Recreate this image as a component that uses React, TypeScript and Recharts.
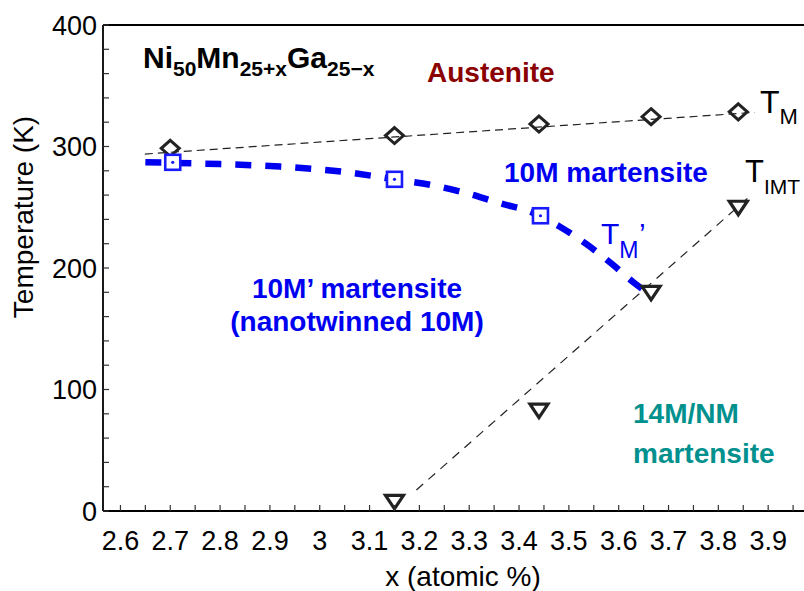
import {
  ComposedChart,
  Line,
  Scatter,
  XAxis,
  YAxis,
  ReferenceLine,
} from "recharts";

// T_M (open diamonds) and its linear fit
const tmX = [2.7, 3.15, 3.44, 3.665, 3.84];
const tmT = [298.5, 309, 318.5, 324.5, 328.5];
const tmFitX = [2.649, 3.873];
const tmFitT = [293.8, 328.1];

// T_M' (open squares) and the thick guide curve
const tmpX = [2.705, 3.15, 3.443];
const tmpT = [287, 273, 243];
const tmpCurveX = [2.65, 2.8, 2.92, 3.05, 3.15, 3.24, 3.3, 3.365, 3.425, 3.482, 3.534, 3.586, 3.632, 3.648];
const tmpCurveT = [287, 285.5, 283.5, 279, 273, 267, 261, 253, 246, 234, 220, 203.5, 187.5, 182.5];

// T_IMT (open down-triangles) and its linear fit
const timtX = [3.15, 3.44, 3.665, 3.84];
const timtT = [8, 83, 180, 250];
const timtFitX = [3.194, 3.866];
const timtFitT = [17.3, 260];

const xTicks = [
  2.6, 2.65, 2.7, 2.75, 2.8, 2.85, 2.9, 2.95, 3, 3.05, 3.1, 3.15, 3.2, 3.25,
  3.3, 3.35, 3.4, 3.45, 3.5, 3.55, 3.6, 3.65, 3.7, 3.75, 3.8, 3.85, 3.9, 3.95,
];
const yTicks = [0, 20, 40, 60, 80, 100, 120, 140, 160, 180, 200, 220, 240, 260, 280, 300, 320, 340, 360, 380, 400];

const zip = (xs: number[], ys: number[]) => xs.map((x, i) => ({ x, y: ys[i] }));

const FONT = '"Liberation Sans", Arial, Helvetica, sans-serif';
const BLUE = "#0000f0";
const INK = "#222";

function XTick({ x, y, payload }: any) {
  const v = payload.value as number;
  const major = Math.round(v * 100) % 10 === 0;
  return (
    <g>
      <line x1={x} y1={y} x2={x} y2={y - 6} stroke="#333" strokeWidth={1.2} />
      {major && (
        <text x={x} y={y + 39} textAnchor="middle" fontSize={27} fontFamily={FONT} fill="#000">
          {String(v)}
        </text>
      )}
    </g>
  );
}

function YTick({ x, y, payload }: any) {
  const v = payload.value as number;
  return (
    <g>
      <line x1={x} y1={y} x2={x + 6} y2={y} stroke="#333" strokeWidth={1.2} />
      {v % 100 === 0 && (
        <text x={x - 6} y={y + 9.5} textAnchor="end" fontSize={27} fontFamily={FONT} fill="#000">
          {v}
        </text>
      )}
    </g>
  );
}

const Diamond = ({ cx, cy }: any) => (
  <path
    d={`M${cx},${cy - 8} L${cx + 9},${cy} L${cx},${cy + 8} L${cx - 9},${cy} Z`}
    fill="none"
    stroke={INK}
    strokeWidth={3}
  />
);

const Square = ({ cx, cy }: any) => (
  <g>
    <rect x={cx - 7.5} y={cy - 7.5} width={15} height={15} fill="#fff" stroke="#1a1aff" strokeWidth={2.6} />
    <circle cx={cx} cy={cy} r={1.6} fill="#1a1aff" />
  </g>
);

const DownTriangle = ({ cx, cy }: any) => (
  <path
    d={`M${cx - 9},${cy - 6} L${cx + 9},${cy - 6} L${cx},${cy + 7.5} Z`}
    fill="#fff"
    stroke={INK}
    strokeWidth={3.2}
    strokeLinejoin="miter"
  />
);

export default function App() {
  return (
    <div
      style={{
        position: "fixed",
        left: 0,
        top: 0,
        width: 804,
        height: 591,
        overflow: "hidden",
        background: "#fff",
      }}
    >
      <ComposedChart
        width={830}
        height={591}
        margin={{ top: 25, right: 12, bottom: 0, left: 43 }}
        style={{ fontFamily: FONT }}
      >
        <XAxis
          type="number"
          dataKey="x"
          domain={[2.565, 4.0]}
          ticks={xTicks}
          interval={0}
          allowDataOverflow
          height={80}
          tickSize={0}
          tickMargin={0}
          tickLine={false}
          tick={<XTick />}
          axisLine={{ stroke: "#000", strokeWidth: 1.8 }}
        />
        <YAxis
          type="number"
          dataKey="y"
          domain={[0, 400]}
          ticks={yTicks}
          interval={0}
          allowDataOverflow
          width={60}
          tickSize={0}
          tickMargin={0}
          tickLine={false}
          tick={<YTick />}
          axisLine={{ stroke: "#000", strokeWidth: 1.8 }}
        />
        <ReferenceLine y={400} stroke="#000" strokeWidth={1.8} />

        <Line
          data={zip(tmFitX, tmFitT)}
          dataKey="y"
          type="linear"
          stroke={INK}
          strokeWidth={1.2}
          strokeDasharray="8 5"
          dot={false}
          activeDot={false}
          isAnimationActive={false}
        />
        <Line
          data={zip(timtFitX, timtFitT)}
          dataKey="y"
          type="linear"
          stroke={INK}
          strokeWidth={1.2}
          strokeDasharray="9 7"
          dot={false}
          activeDot={false}
          isAnimationActive={false}
        />
        <Line
          data={zip(tmpCurveX, tmpCurveT)}
          dataKey="y"
          type="monotone"
          stroke={BLUE}
          strokeWidth={6.5}
          strokeDasharray="16 14"
          dot={false}
          activeDot={false}
          isAnimationActive={false}
        />

        <Scatter data={zip(tmX, tmT)} dataKey="y" shape={<Diamond />} isAnimationActive={false} />
        <Scatter data={zip(tmpX, tmpT)} dataKey="y" shape={<Square />} isAnimationActive={false} />
        <Scatter data={zip(timtX, timtT)} dataKey="y" shape={<DownTriangle />} isAnimationActive={false} />

        {/* annotations */}
        <text x={143} y={68} fontSize={30} fontWeight="bold" fontFamily={FONT} fill="#000">
          Ni<tspan fontSize={21} dy={8}>50</tspan>
          <tspan dy={-8}>Mn</tspan>
          <tspan fontSize={21} dy={8}>25+x</tspan>
          <tspan dy={-8}>Ga</tspan>
          <tspan fontSize={21} dy={8}>25−x</tspan>
        </text>
        <text x={427} y={82} fontSize={28} fontWeight="bold" fontFamily={FONT} fill="#8b0000">
          Austenite
        </text>
        <text x={504} y={182} fontSize={28} fontWeight="bold" fontFamily={FONT} fill={BLUE}>
          10M martensite
        </text>
        <text x={357} y={298} textAnchor="middle" fontSize={28} fontWeight="bold" fontFamily={FONT} fill={BLUE}>
          10M’ martensite
        </text>
        <text x={357} y={331} textAnchor="middle" fontSize={28} fontWeight="bold" fontFamily={FONT} fill={BLUE}>
          (nanotwinned 10M)
        </text>
        <text x={633} y={423} fontSize={28} fontWeight="bold" fontFamily={FONT} fill="#00918e">
          14M/NM
        </text>
        <text x={633} y={463} fontSize={28} fontWeight="bold" fontFamily={FONT} fill="#00918e">
          martensite
        </text>

        <text x={760} y={113} fontSize={32} fontFamily={FONT} fill="#000">
          T<tspan fontSize={22} dy={11}>M</tspan>
        </text>
        <text x={745} y={182} fontSize={31} fontFamily={FONT} fill="#000">
          T<tspan fontSize={21} dy={11.5}>IMT</tspan>
        </text>
        <text x={601} y={244} fontSize={30} fontFamily={FONT} fill={BLUE}>
          T<tspan fontSize={23} dy={14}>M</tspan>
          <tspan dx={0.5} dy={-14}>’</tspan>
        </text>

        <text
          x={33}
          y={217}
          textAnchor="middle"
          transform="rotate(-90, 33, 217)"
          fontSize={28}
          fontFamily={FONT}
          fill="#000"
        >
          Temperature (K)
        </text>
        <text x={463} y={586} textAnchor="middle" fontSize={28} fontFamily={FONT} fill="#000">
          x (atomic %)
        </text>
      </ComposedChart>
    </div>
  );
}
